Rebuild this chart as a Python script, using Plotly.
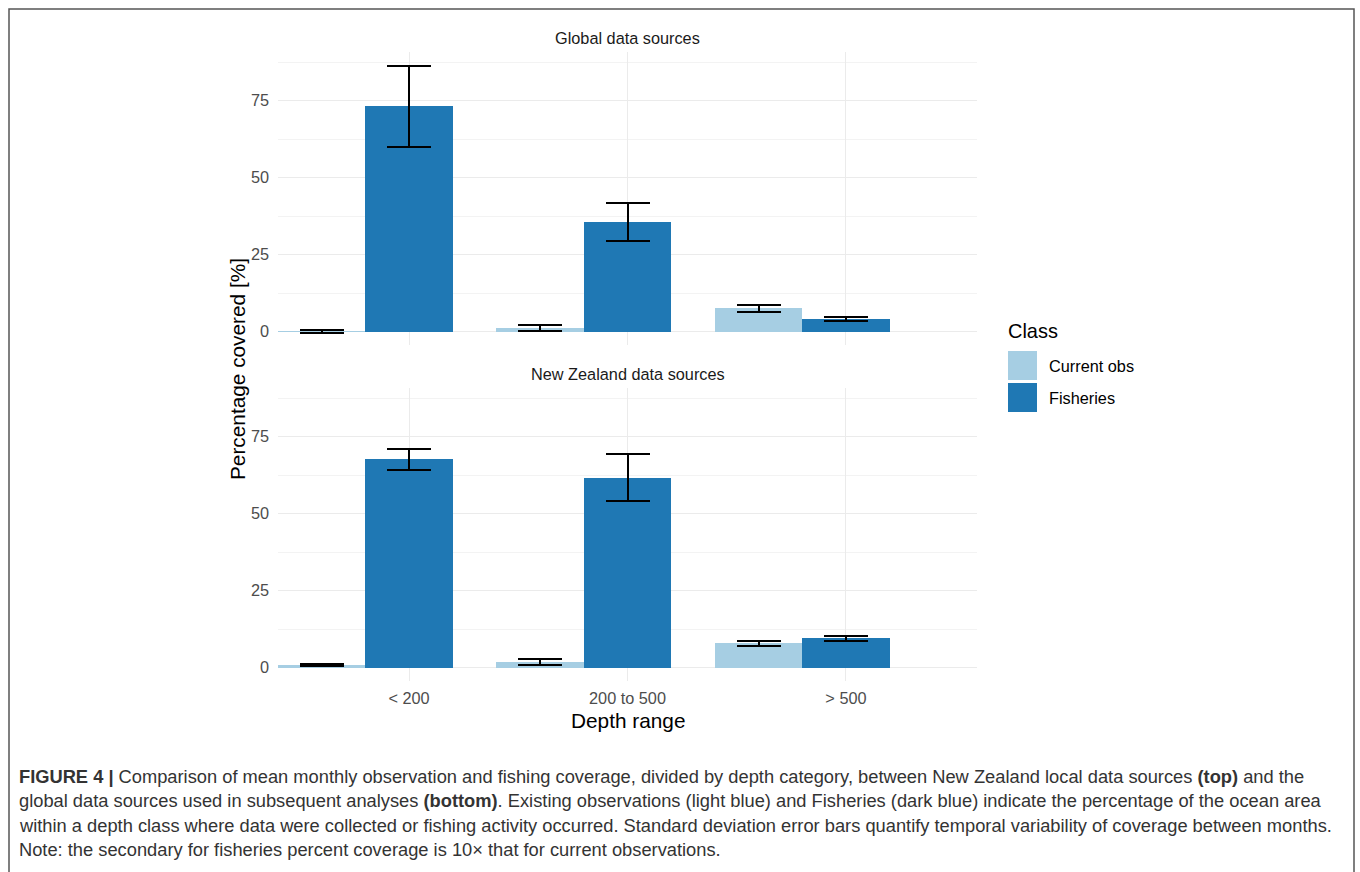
import plotly.graph_objects as go

# ---------------- data ----------------
categories = ["< 200", "200 to 500", "> 500"]
classes = ["Current obs", "Fisheries"]

global_current_mean = [0.2, 1.3, 7.6]
global_current_sd = [0.5, 1.0, 1.1]
global_fish_mean = [73.2, 35.7, 4.2]
global_fish_sd = [13.1, 6.2, 0.7]

nz_current_mean = [0.9, 1.9, 8.0]
nz_current_sd = [0.4, 1.1, 0.8]
nz_fish_mean = [67.6, 61.7, 9.6]
nz_fish_sd = [3.3, 7.6, 0.8]

panel_titles = ["Global data sources", "New Zealand data sources"]
y_ticks = [0, 25, 50, 75]
y_minor = [12.5, 37.5, 62.5, 87.5]

caption_lines = [
    "<b>FIGURE 4 |</b> Comparison of mean monthly observation and fishing coverage, divided by depth category, between New Zealand local data sources <b>(top)</b> and the",
    "global data sources used in subsequent analyses <b>(bottom)</b>. Existing observations (light blue) and Fisheries (dark blue) indicate the percentage of the ocean area",
    "within a depth class where data were collected or fishing activity occurred. Standard deviation error bars quantify temporal variability of coverage between months.",
    "Note: the secondary for fisheries percent coverage is 10× that for current observations.",
]

# ---------------- style ----------------
W, H = 1360, 872
FONT = "Liberation Sans, Arial, sans-serif"
C_LIGHT = "#A6CEE3"
C_DARK = "#1F78B4"
GRID = "#EBEBEB"
GRID_MINOR = "#F3F3F3"
BAR_W = 0.4
OFFSETS = [-0.4, 0.0]
SMALL = 16.3
BIG = 20.8

def px_x(p):
    return p / W

def px_y(p):
    return 1 - p / H

x_dom = [px_x(278), px_x(977)]
top_dom = [px_y(345), px_y(52)]
bot_dom = [px_y(681), px_y(388)]
y_range = [-4.3, 90.8]
x_range = [-0.6, 2.6]

fig = go.Figure()

panels = [
    ("x", "y", [global_current_mean, global_fish_mean], [global_current_sd, global_fish_sd]),
    ("x2", "y2", [nz_current_mean, nz_fish_mean], [nz_current_sd, nz_fish_sd]),
]
colors = [C_LIGHT, C_DARK]
idx = list(range(len(categories)))

for pi, (xa, ya, means, sds) in enumerate(panels):
    for ci, cls in enumerate(classes):
        fig.add_trace(go.Bar(
            x=[i + OFFSETS[ci] for i in idx],
            y=means[ci],
            width=BAR_W,
            name=cls,
            legendgroup=cls,
            showlegend=False,
            marker=dict(color=colors[ci], line=dict(width=0)),
            error_y=dict(type="data", array=sds[ci], visible=True,
                         color="black", thickness=2, width=22),
            xaxis=xa, yaxis=ya,
        ))

axis_common_x = dict(
    range=x_range, tickmode="array", tickvals=idx, ticktext=categories,
    showgrid=True, gridcolor=GRID, gridwidth=1.2, zeroline=False,
    showline=False, ticks="", domain=x_dom,
    tickfont=dict(family=FONT, size=SMALL, color="#4D4D4D"),
)
axis_common_y = dict(
    range=y_range, tickmode="array", tickvals=y_ticks,
    showgrid=True, gridcolor=GRID, gridwidth=1.2, zeroline=False,
    showline=False, ticks="",
    tickfont=dict(family=FONT, size=SMALL, color="#4D4D4D"),
    ticklabelstandoff=8,
    minor=dict(tickvals=y_minor, showgrid=True, gridcolor=GRID_MINOR, gridwidth=1),
)

fig.update_layout(
    width=W, height=H,
    margin=dict(l=0, r=0, t=0, b=0),
    paper_bgcolor="white", plot_bgcolor="white",
    barmode="overlay", bargap=0,
    showlegend=False,
    font=dict(family=FONT, color="black"),
    xaxis=dict(**axis_common_x, anchor="y", showticklabels=False),
    yaxis=dict(**axis_common_y, domain=top_dom, anchor="x"),
    xaxis2=dict(**axis_common_x, anchor="y2", showticklabels=True, ticklabelstandoff=6),
    yaxis2=dict(**axis_common_y, domain=bot_dom, anchor="x2"),
)

ann = []
# strip titles
ann.append(dict(text=panel_titles[0], x=(x_dom[0] + x_dom[1]) / 2, y=px_y(38),
                xref="paper", yref="paper", showarrow=False,
                font=dict(family=FONT, size=SMALL, color="#1A1A1A"), yanchor="middle"))
ann.append(dict(text=panel_titles[1], x=(x_dom[0] + x_dom[1]) / 2, y=px_y(374),
                xref="paper", yref="paper", showarrow=False,
                font=dict(family=FONT, size=SMALL, color="#1A1A1A"), yanchor="middle"))
# axis titles
ann.append(dict(text="Depth range", x=(x_dom[0] + x_dom[1]) / 2, y=px_y(720),
                xref="paper", yref="paper", showarrow=False,
                font=dict(family=FONT, size=BIG, color="black"), yanchor="middle"))
ann.append(dict(text="Percentage covered [%]", x=px_x(237), y=px_y(369),
                xref="paper", yref="paper", showarrow=False, textangle=-90,
                font=dict(family=FONT, size=BIG, color="black"),
                xanchor="center", yanchor="middle"))
# legend
ann.append(dict(text="Class", x=px_x(1006), y=px_y(331), xref="paper", yref="paper",
                showarrow=False, xanchor="left", yanchor="middle",
                font=dict(family=FONT, size=BIG * 0.96, color="black")))
legend_rows = [(351, 380), (383, 412)]
shapes = []
for ci, cls in enumerate(classes):
    y0, y1 = legend_rows[ci]
    shapes.append(dict(type="rect", xref="paper", yref="paper",
                       x0=px_x(1008), x1=px_x(1037), y0=px_y(y1), y1=px_y(y0),
                       fillcolor=colors[ci], line=dict(width=0)))
    ann.append(dict(text=cls, x=px_x(1047), y=px_y((y0 + y1) / 2), xref="paper", yref="paper",
                    showarrow=False, xanchor="left", yanchor="middle",
                    font=dict(family=FONT, size=SMALL, color="black")))
# caption
cap_y = [776, 800, 825, 849]
for line, yy in zip(caption_lines, cap_y):
    ann.append(dict(text=line, x=px_x(17), y=px_y(yy), xref="paper", yref="paper",
                    showarrow=False, xanchor="left", yanchor="middle",
                    font=dict(family=FONT, size=18.3, color="#333333")))
# outer border
shapes.append(dict(type="rect", xref="paper", yref="paper",
                   x0=px_x(9), x1=px_x(1354), y0=-0.02, y1=px_y(9),
                   line=dict(color="#555555", width=1.5), fillcolor="rgba(0,0,0,0)"))

fig.update_layout(annotations=ann, shapes=shapes)
fig.write_html(
    "out.html",
    config={"displayModeBar": False},
    post_script="document.body.style.margin='0';document.body.style.overflow='hidden';",
)
